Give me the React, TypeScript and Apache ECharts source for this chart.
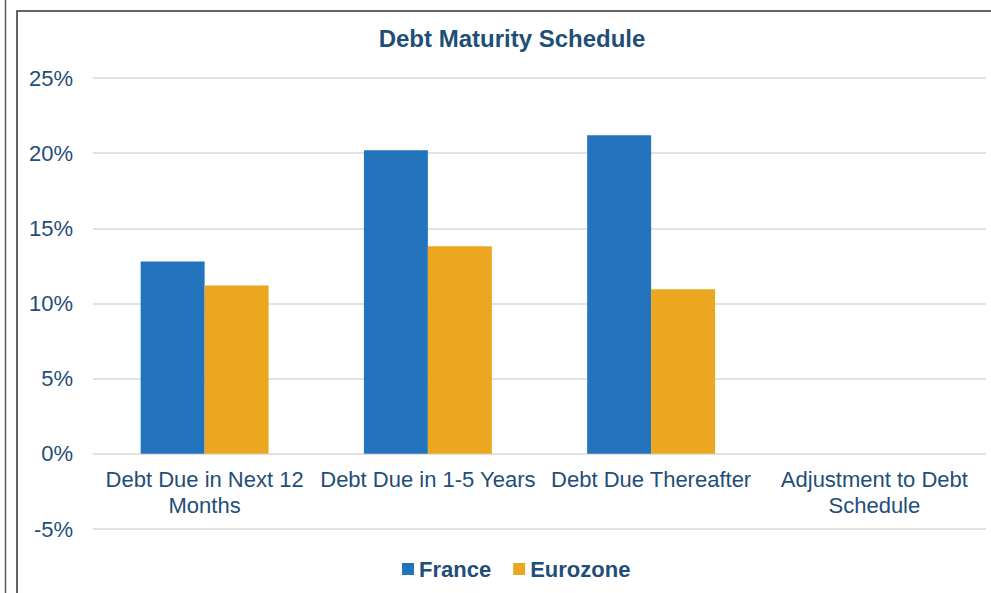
import React, { useEffect, useRef } from "react";
import * as echarts from "echarts";

const categories = [
  "Debt Due in Next 12\nMonths",
  "Debt Due in 1-5 Years",
  "Debt Due Thereafter",
  "Adjustment to Debt\nSchedule",
];
const franceValues = [12.8, 20.2, 21.2, 0];
const eurozoneValues = [11.2, 13.8, 10.95, 0];
const yTicks = { min: -5, max: 25, interval: 5 };

const TEXT = "#1f4e79";
const FONT = "'Liberation Sans', Arial, sans-serif";

const GRID_TOP = 78;
const GRID_BOTTOM = 64;
const CHART_H = 593;

export default function App() {
  const ref = useRef<HTMLDivElement>(null);
  useEffect(() => {
    if (!ref.current) return;
    const chart = echarts.init(ref.current, undefined, { renderer: "svg" });
    const plotH = CHART_H - GRID_TOP - GRID_BOTTOM;
    const zeroOffset = (plotH * (0 - yTicks.min)) / (yTicks.max - yTicks.min);
    chart.setOption({
      animation: false,
      backgroundColor: "#ffffff",
      textStyle: { fontFamily: FONT },
      title: {
        text: "Debt Maturity Schedule",
        left: 507,
        top: 21,
        textAlign: "center",
        textStyle: { color: TEXT, fontSize: 24, fontWeight: "bold", fontFamily: FONT },
      },
      legend: {
        data: ["France", "Eurozone"],
        left: 397,
        top: 553,
        orient: "horizontal",
        itemWidth: 12,
        itemHeight: 12,
        itemGap: 22,
        icon: "rect",
        textStyle: { color: TEXT, fontSize: 22, fontWeight: "bold", fontFamily: FONT },
      },
      grid: { left: 93, right: 5, top: GRID_TOP, bottom: GRID_BOTTOM, containLabel: false },
      xAxis: {
        type: "category",
        data: categories,
        offset: -zeroOffset,
        axisLine: { show: false },
        axisTick: { show: false },
        axisLabel: {
          color: TEXT,
          fontSize: 22,
          lineHeight: 26,
          margin: 13,
          interval: 0,
          fontFamily: FONT,
        },
      },
      yAxis: {
        type: "value",
        min: yTicks.min,
        max: yTicks.max,
        interval: yTicks.interval,
        axisLine: { show: false },
        axisTick: { show: false },
        splitLine: { lineStyle: { color: "#d9d9d9", width: 1.5 } },
        axisLabel: {
          color: TEXT,
          fontSize: 22,
          margin: 20,
          formatter: (v: number) => `${v}%`,
          fontFamily: FONT,
        },
      },
      series: [
        {
          name: "France",
          type: "bar",
          data: franceValues,
          barGap: "0%",
          barCategoryGap: "42.7%",
          itemStyle: { color: "#2474bd" },
        },
        {
          name: "Eurozone",
          type: "bar",
          data: eurozoneValues,
          barGap: "0%",
          barCategoryGap: "42.7%",
          itemStyle: { color: "#eba720" },
        },
      ],
      graphic: [
        {
          type: "line",
          shape: { x1: 5.5, y1: 0, x2: 5.5, y2: 593 },
          style: { stroke: "#595959", lineWidth: 1.5 },
          silent: true,
        },
        {
          type: "rect",
          shape: { x: 17, y: 11, width: 1200, height: 1200 },
          style: { fill: "none", stroke: "#333333", lineWidth: 1.5 },
          silent: true,
        },
      ],
    });
    return () => chart.dispose();
  }, []);
  return (
    <div
      ref={ref}
      style={{ position: "fixed", left: 0, top: 0, width: 991, height: 593 }}
    />
  );
}
